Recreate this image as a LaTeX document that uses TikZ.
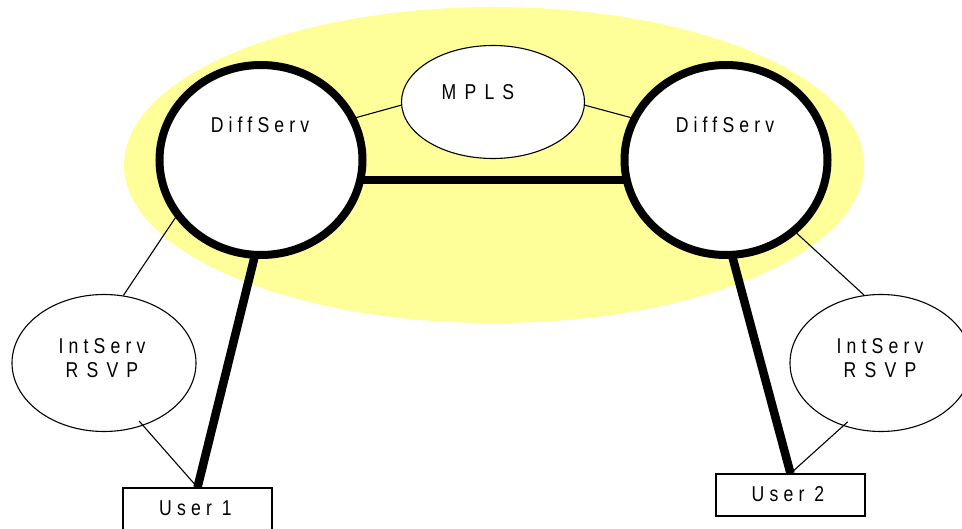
\documentclass[tikz,border=0pt]{standalone}
\usepackage{fontspec}
\newfontfamily\lblfont[FakeStretch=0.82,LetterSpace=24]{Liberation Sans}
\newfontfamily\capsfont[FakeStretch=0.82,LetterSpace=38]{Liberation Sans}
\usetikzlibrary{shapes.geometric}
\definecolor{cloud}{HTML}{FFFF99}
\definecolor{ink}{HTML}{000000}
\begin{document}
\begin{tikzpicture}[x=1pt,y=-1pt,
  lbl/.style={font={\lblfont\fontsize{21.5}{24}\selectfont}, text=ink, align=center, inner sep=0pt},
  corearea/.style={ellipse, fill=cloud, inner sep=0pt},
  dsring/.style={ellipse, draw, line width=8pt, fill=white, inner sep=0pt},
  subarea/.style={ellipse, draw, line width=1.1pt, fill=white, inner sep=0pt},
  userbox/.style={rectangle, draw, line width=1.1pt, fill=white, minimum width=149pt, minimum height=42pt, inner sep=0pt},
  trunk/.style={line width=8.5pt},
  wire/.style={line width=1.1pt}]
\useasboundingbox (0,0) rectangle (962,529);

% backbone area
\node[corearea, minimum width=740pt, minimum height=316pt] (cloud) at (494,165) {};

% nodes
\node[dsring, minimum width=203pt, minimum height=190pt] (ds1) at (261,160) {};
\node[dsring, minimum width=203pt, minimum height=190pt] (ds2) at (726,160) {};
\node[subarea, minimum width=183pt, minimum height=113pt] (mpls) at (493,102) {};
\node[subarea, minimum width=184pt, minimum height=137pt] (is1) at (104,363) {};
\node[subarea, minimum width=182pt, minimum height=137pt] (is2) at (881,363) {};
\node[userbox] (u1) at (197.5,509) {};
\node[userbox] (u2) at (790.5,495) {};

% labels
\node[lbl] (ds1t) at (260,125) {DiffServ};
\node[lbl] (ds2t) at (725,125) {DiffServ};
\node[lbl] (mplst) at (478,92) {\capsfont MPLS};
\node[lbl] (is1t) at (102,358) {IntServ\\{\capsfont RSVP}};
\node[lbl] (is2t) at (880,358) {IntServ\\{\capsfont RSVP}};
\node[lbl] (u1t) at (195.5,508.5) {User 1};
\node[lbl] (u2t) at (788,494.5) {User 2};

% thick links
\draw[trunk, shorten <=-4pt, shorten >=-4pt] (ds1.-11) -- (ds2.191);
\draw[trunk, shorten <=-4pt] (ds1.-94) -- (u1.north);
\draw[trunk, shorten <=-4pt] (ds2.-86) -- (u2.north);

% thin links
\draw[wire, shorten >=-8pt] (mpls.182) -- (ds1.24);
\draw[wire, shorten >=-8pt] (mpls.-2) -- (ds2.156);
\draw[wire] (ds1.214) -- (is1.74);
\draw[wire] (ds2.-46) -- (is2.104);
\draw[wire, shorten <=-6pt, shorten >=4pt] (is1.-58) -- (u1.north);
\draw[wire, shorten <=-6pt, shorten >=3pt] (is2.-121) -- (u2.north);
\end{tikzpicture}
\end{document}
